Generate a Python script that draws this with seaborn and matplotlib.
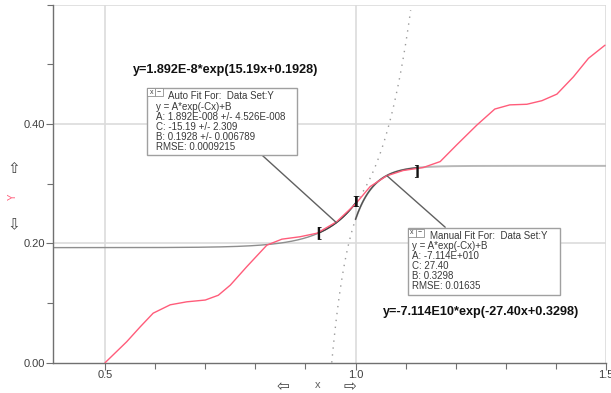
import numpy as np
import pandas as pd
import matplotlib
matplotlib.use("Agg")
import matplotlib.pyplot as plt
import seaborn as sns
from matplotlib.patches import Rectangle

# ---- data ----
curve_x = [0.500, 0.543, 0.570, 0.596, 0.630, 0.663, 0.700, 0.726, 0.750, 0.783,
           0.823, 0.853, 0.889, 0.923, 0.962, 1.000, 1.029, 1.062, 1.095, 1.135,
           1.169, 1.202, 1.242, 1.278, 1.308, 1.342, 1.372, 1.402, 1.435, 1.465, 1.498]
curve_y = [0.000, 0.035, 0.060, 0.083, 0.097, 0.102, 0.105, 0.113, 0.130, 0.161,
           0.197, 0.207, 0.211, 0.217, 0.236, 0.266, 0.295, 0.313, 0.322, 0.327,
           0.337, 0.365, 0.398, 0.425, 0.432, 0.433, 0.439, 0.450, 0.479, 0.510, 0.532]

auto_params = [1.892e-8, -15.19, 0.1928]      # A, C, B
manual_params = [-7.114e10, 27.40, 0.3298]    # A, C, B
auto_range = [0.926, 1.000]
manual_range = [1.000, 1.122]

auto_lines = ["Auto Fit For:  Data Set:Y", "y = A*exp(-Cx)+B", "A: 1.892E-008 +/- 4.526E-008",
              "C: -15.19 +/- 2.309", "B: 0.1928 +/- 0.006789", "RMSE: 0.0009215"]
manual_lines = ["Manual Fit For:  Data Set:Y", "y = A*exp(-Cx)+B", "A: -7.114E+010",
                "C: 27.40", "B: 0.3298", "RMSE: 0.01635"]
auto_eq = "y=1.892E-8*exp(15.19x+0.1928)"
manual_eq = "y=-7.114E10*exp(-27.40x+0.3298)"

x_ticks = [0.5, 1.0, 1.5]
x_ticklabels = ["0.5", "1.0", "1.5"]
y_ticks = [0.0, 0.2, 0.4]
y_ticklabels = ["0.00", "0.20", "0.40"]

# ---- plotting ----
sns.set_style("white")
plt.rcParams['font.family'] = ['Liberation Sans', 'DejaVu Sans']

W, H = 611, 393
fig = plt.figure(figsize=(W / 100, H / 100), dpi=100)
ax = fig.add_axes([53 / W, 1 - 362.7 / H, (606 - 53) / W, (362.7 - 4.6) / H])
XMIN, XMAX, YMIN, YMAX = 0.396, 1.5, 0.0, 0.6
ax.set_xlim(XMIN, XMAX)
ax.set_ylim(YMIN, YMAX)

# grid lines
for gx in [0.5, 1.0, 1.5]:
    ax.axvline(gx, color="#dcdcdc", lw=1.2, zorder=0)
for gy in [0.2, 0.4, 0.6]:
    ax.axhline(gy, color="#dcdcdc", lw=1.2, zorder=0)

def model(p, x):
    return p[0] * np.exp(-p[1] * x) + p[2]

# auto fit: solid to x=1.0, dotted extrapolation beyond
xa = np.linspace(XMIN, auto_range[1], 300)
ax.plot(xa, model(auto_params, xa), color="#8e8e8e", lw=1.0, zorder=2)
xa2 = np.linspace(auto_range[1], 1.11, 100)
ax.plot(xa2, model(auto_params, xa2), color="#9a9a9a", lw=1.0, ls=(0, (1, 4)), zorder=2)
xaf = np.linspace(*auto_range, 50)
ax.plot(xaf, model(auto_params, xaf), color="#404040", lw=1.0, zorder=3)

# manual fit: solid from x=1.0, dotted extrapolation before
xm = np.linspace(manual_range[0], XMAX, 300)
ax.plot(xm, model(manual_params, xm), color="#b8b8b8", lw=1.4, zorder=2)
xm2 = np.linspace(0.95, manual_range[0], 100)
ax.plot(xm2, model(manual_params, xm2), color="#9a9a9a", lw=1.0, ls=(0, (1, 4)), zorder=2)
xmf = np.linspace(*manual_range, 50)
ax.plot(xmf, model(manual_params, xmf), color="#505050", lw=1.0, zorder=3)

# data curve
df = pd.DataFrame({"x": curve_x, "y": curve_y})
sns.lineplot(data=df, x="x", y="y", ax=ax, color="#ff5c7a", lw=1.0, zorder=4)
ax.set_xlabel("")
ax.set_ylabel("")

# brackets
ax.text(auto_range[0], model(auto_params, auto_range[0]), "[", fontsize=10, fontweight="bold",
        ha="center", va="center", color="#111111", family="DejaVu Serif", zorder=6)
ax.text(1.0, model(auto_params, 1.0), "I", fontsize=10, fontweight="bold",
        ha="center", va="center", color="#111111", family="DejaVu Serif", zorder=6)
ax.text(manual_range[1], model(manual_params, manual_range[1]) - 0.006, "]", fontsize=10, fontweight="bold",
        ha="center", va="center", color="#111111", family="DejaVu Serif", zorder=6)

# leader lines
ax.plot([0.813, 0.962], [0.348, 0.2345], color="#606060", lw=1.0, zorder=5)
ax.plot([1.179, 1.063], [0.227, 0.313], color="#606060", lw=1.0, zorder=5)

def draw_box(x0, x1, y0, y1, lines, tx_title, tx, ys):
    ax.add_patch(Rectangle((x0, y0), x1 - x0, y1 - y0, facecolor="white",
                           edgecolor="#a0a0a0", lw=1.0, zorder=7))
    # small window icons
    iw = 0.016
    for k, s in enumerate(["x", "\u2212"]):
        ax.add_patch(Rectangle((x0 + k * iw, y1 - 0.014), iw, 0.013, facecolor="white",
                               edgecolor="#909090", lw=0.6, zorder=8))
        ax.text(x0 + k * iw + iw / 2, y1 - 0.0075, s, fontsize=5, ha="center", va="center",
                color="#404040", zorder=9)
    for i, (t, yy) in enumerate(zip(lines, ys)):
        ax.text(tx_title if i == 0 else tx, yy, t, fontsize=7.0, ha="left", va="center",
                color="#3a3a3a", zorder=9)

draw_box(0.584, 0.884, 0.348, 0.461, auto_lines, 0.626, 0.602,
         [0.447, 0.429, 0.412, 0.395, 0.378, 0.362])
draw_box(1.105, 1.409, 0.1134, 0.225, manual_lines, 1.149, 1.112,
         [0.213, 0.196, 0.179, 0.162, 0.145, 0.129])

ax.text(0.556, 0.490, auto_eq, fontsize=9.1, fontweight="bold", ha="left", va="center",
        color="#111111", zorder=9)
ax.text(1.054, 0.0844, manual_eq, fontsize=9.1, fontweight="bold", ha="left", va="center",
        color="#111111", zorder=9)

# axes styling
for s in ["top", "right"]:
    ax.spines[s].set_visible(False)
for s in ["left", "bottom"]:
    ax.spines[s].set_color("#707070")
    ax.spines[s].set_linewidth(1.0)
ax.set_xticks(x_ticks)
ax.set_xticklabels(x_ticklabels)
ax.set_yticks(y_ticks)
ax.set_yticklabels(y_ticklabels)
ax.set_xticks(np.arange(0.6, 1.45, 0.1), minor=True)
ax.set_yticks([0.1, 0.3, 0.5, 0.6], minor=True)
ax.tick_params(which="both", direction="out", color="#707070", width=0.8)
ax.tick_params(which="major", length=5, labelsize=8, labelcolor="#404040", pad=0.5)
ax.tick_params(which="minor", length=4)
ax.tick_params(axis="x", which="both", bottom=True)
ax.tick_params(axis="y", which="both", left=True)

# axis labels with arrows
fig.text(283 / W, 1 - 386.5 / H, "\u21E6", fontsize=11, ha="center", va="center",
         color="#404040", family="DejaVu Sans")
fig.text(318 / W, 1 - 385 / H, "x", fontsize=8, ha="center", va="center", color="#606060")
fig.text(350 / W, 1 - 386.5 / H, "\u21E8", fontsize=11, ha="center", va="center",
         color="#404040", family="DejaVu Sans")
fig.text(13.5 / W, 1 - 168 / H, "\u21E7", fontsize=11, ha="center", va="center",
         color="#404040", family="DejaVu Sans")
fig.text(13 / W, 1 - 196.5 / H, "Y", fontsize=7, ha="center", va="center", color="#ff5c7a",
         rotation=90)
fig.text(13.5 / W, 1 - 225 / H, "\u21E9", fontsize=11, ha="center", va="center",
         color="#404040", family="DejaVu Sans")

fig.savefig("out.png", dpi=100, facecolor="white")
